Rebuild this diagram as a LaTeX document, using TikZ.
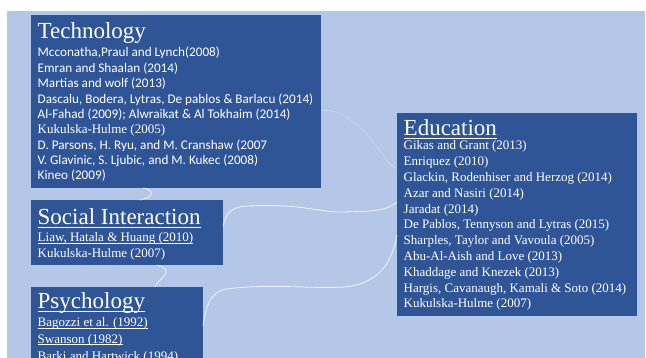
\documentclass[tikz,border=0pt]{standalone}
\usepackage{fontspec}
\setmainfont{Liberation Serif}
\newfontfamily\calibrifont{Carlito}
\newfontfamily\timesfont{Liberation Serif}
\usetikzlibrary{calc}

\definecolor{pageblue}{HTML}{B4C7E7}
\definecolor{boxblue}{HTML}{2F5597}

% underline drawn at a fixed distance below the baseline
\newcommand\ulin[1]{\setbox0\hbox{#1}\rlap{\rule[-0.12em]{\wd0}{0.05em}}\box0}

\tikzset{
  panel/.style={fill=boxblue, draw=none, inner sep=0pt, outer sep=0pt, anchor=north west},
  heading/.style={anchor=base west, inner sep=0pt, text=white, font=\timesfont\fontsize{23}{23}\selectfont},
  refsans/.style={anchor=base west, inner sep=0pt, text=white, font=\calibrifont\fontsize{13.2}{13.2}\selectfont},
  refserif/.style={anchor=base west, inner sep=0pt, text=white, font=\timesfont\fontsize{13}{13}\selectfont},
  link/.style={draw=white, line width=0.8pt, opacity=0.8},
  faintlink/.style={draw=white, line width=0.7pt, opacity=0.25}
}

\begin{document}
\begin{tikzpicture}[x=1pt, y=-1pt]
  \useasboundingbox (0,0) rectangle (646,358);
  \fill[pageblue] (7,11) rectangle (645,358);

  % panels
  \node[panel, minimum width=290pt, minimum height=173pt] (tech) at (31,15) {};
  \node[panel, minimum width=192pt, minimum height=65pt] (social) at (31,200) {};
  \node[panel, minimum width=172pt, minimum height=75pt] (psych) at (31,287) {};
  \node[panel, minimum width=240pt, minimum height=203pt] (edu) at (397,113) {};

  % connectors
  \draw[faintlink] ([yshift=-9pt]tech.east) .. controls (350,108) and (372,140) .. (383,155)
        .. controls (388,162) and (392,167) .. ([yshift=46pt]edu.west);
  \draw[link] ([yshift=6pt]social.east) .. controls (226,212) and (232,206) .. (250,206)
        .. controls (300,203) and (320,213) .. (345,212)
        .. controls (370,211) and (385,212) .. ([yshift=12.5pt]edu.west);
  \draw[link] ([yshift=-1.5pt]psych.east) .. controls (207,300) and (212,289) .. (235,288)
        .. controls (280,284) and (310,289) .. (345,287)
        .. controls (380,283) and (392,262) .. ([yshift=-20.5pt]edu.west);
  \draw[link] ([xshift=-33pt]tech.south) .. controls (150,189) and (154,193) .. (150,196)
        .. controls (147,199) and (142,199) .. ([xshift=13pt]social.north);
  \draw[link] ([xshift=30pt]social.south) .. controls (163,266) and (169,270) .. (165,275)
        .. controls (161,280) and (156,283) .. ([xshift=38pt]psych.north);

  % Technology
  \node[heading] (techtitle) at (37.5,39) {Technology};
  \node[refsans]  (tech1) at (37.5,57)     {Mcconatha,Praul and Lynch(2008)};
  \node[refsans]  (tech2) at (37.5,72.35)  {Emran and Shaalan (2014)};
  \node[refsans]  (tech3) at (37.5,87.7)   {Martias and wolf (2013)};
  \node[refsans]  (tech4) at (37.5,103.05) {Dascalu, Bodera, Lytras, De pablos \& Barlacu (2014)};
  \node[refsans]  (tech5) at (37.5,118.4)  {Al-Fahad (2009); Alwraikat \& Al Tokhaim (2014)};
  \node[refserif] (tech6) at (37.5,133.75) {Kukulska-Hulme (2005)};
  \node[refsans]  (tech7) at (37.5,149.1)  {D. Parsons, H. Ryu, and M. Cranshaw (2007};
  \node[refsans]  (tech8) at (37.5,164.45) {V. Glavinic, S. Ljubic, and M. Kukec (2008)};
  \node[refsans]  (tech9) at (37.5,179.8)  {Kineo (2009)};

  % Social Interaction
  \node[heading] (socialtitle) at (37.5,225) {\ulin{Social Interaction}};
  \node[refserif] (social1) at (37.5,242) {\ulin{Liaw, Hatala \& Huang (2010)}};
  \node[refserif] (social2) at (37.5,258) {Kukulska-Hulme (2007)};

  % Psychology
  \node[heading] (psychtitle) at (37.5,309) {\ulin{Psychology}};
  \node[refserif] (psych1) at (37.5,327) {\ulin{Bagozzi et al. (1992)}};
  \node[refserif] (psych2) at (37.5,343.5) {\ulin{Swanson (1982)}};
  \node[refserif] (psych3) at (37.5,360) {\ulin{Barki and Hartwick (1994)}};

  % Education
  \node[heading] (edutitle) at (403.5,136) {\ulin{Education}};
  \foreach \t [count=\i] in {
      {Gikas and Grant (2013)},
      {Enriquez (2010)},
      {Glackin, Rodenhiser and Herzog (2014)},
      {Azar and Nasiri (2014)},
      {Jaradat (2014)},
      {De Pablos, Tennyson and Lytras (2015)},
      {Sharples, Taylor and Vavoula (2005)},
      {Abu-Al-Aish and Love (2013)},
      {Khaddage and Knezek (2013)},
      {Hargis, Cavanaugh, Kamali \& Soto (2014)},
      {Kukulska-Hulme (2007)}}
    \node[refserif] (edu\i) at (403.5,{150+15.8*(\i-1)}) {\t};
\end{tikzpicture}
\end{document}
